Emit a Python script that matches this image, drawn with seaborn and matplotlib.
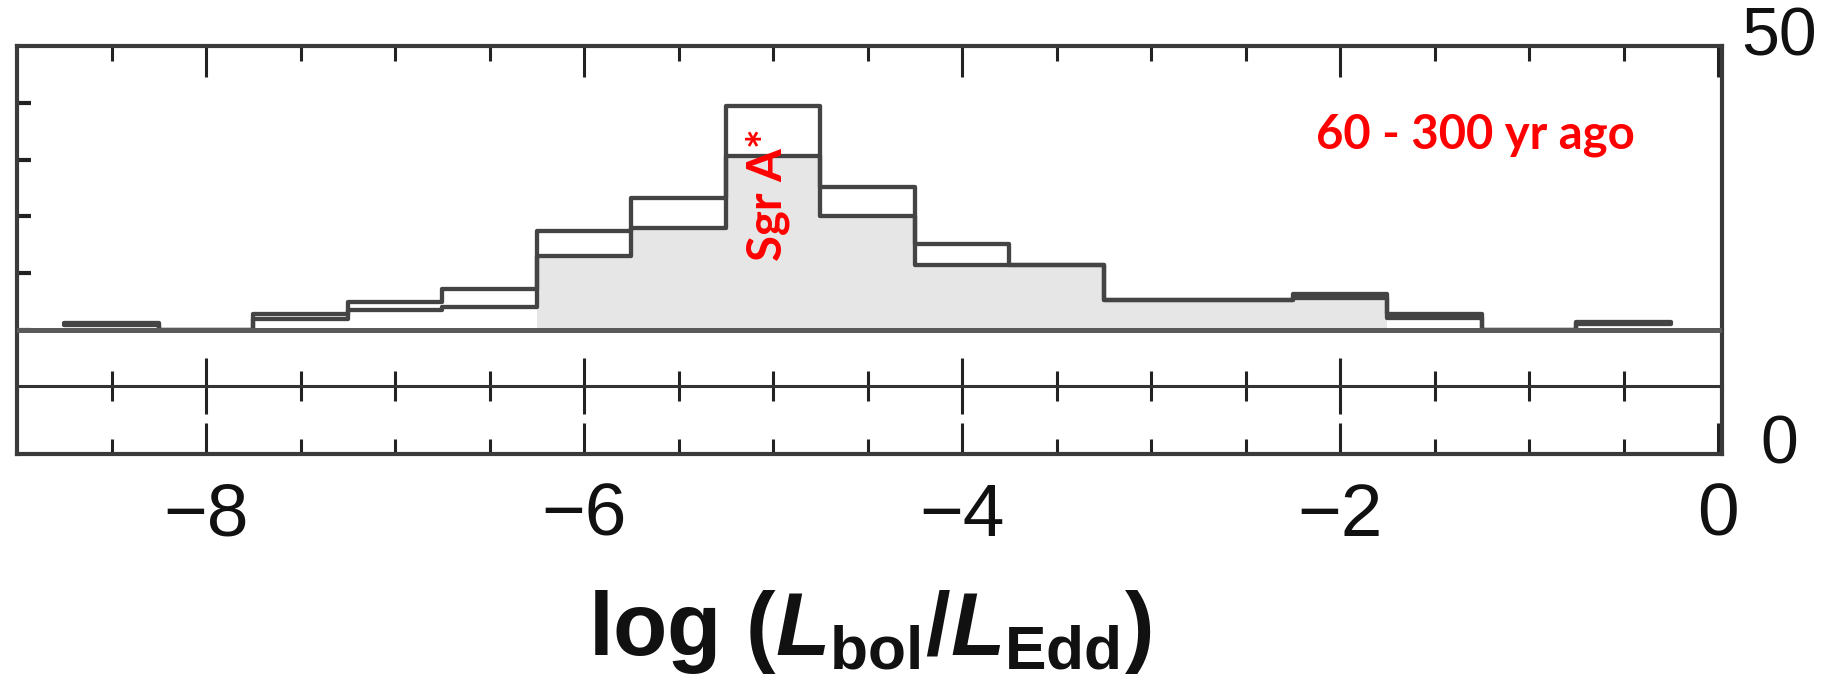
import numpy as np
import pandas as pd
import matplotlib
matplotlib.use("Agg")
import matplotlib.pyplot as plt
from matplotlib.ticker import FixedLocator
import seaborn as sns

# Eddington-ratio distribution, 0.5 dex bins
bin_centers = [-8.5, -8.0, -7.5, -7.0, -6.5, -6.0, -5.5, -5.0, -4.5, -4.0,
               -3.5, -3.0, -2.5, -2.0, -1.5, -1.0, -0.5]
total_counts = [1.3, 0.0, 2.8, 4.9, 7.2, 17.5, 23.2, 39.4, 25.1, 15.2,
                11.4, 5.3, 5.3, 6.3, 2.8, 0.0, 1.4]
subset_counts = [0.8, 0.0, 2.0, 3.6, 4.1, 13.1, 17.9, 30.6, 20.0, 11.4,
                 11.4, 5.2, 5.2, 5.6, 2.2, 0.0, 1.0]
shaded_counts = [0.0, 0.0, 0.0, 0.0, 0.0, 13.1, 17.9, 30.6, 20.0, 11.4,
                 11.4, 5.2, 5.2, 5.6, 0.0, 0.0, 0.0]
bin_width = 0.5

x_major = [-8, -6, -4, -2, 0]
x_major_labels = ["\u22128", "\u22126", "\u22124", "\u22122", "0"]
x_minor = [-8.5, -7.5, -7.0, -6.5, -5.5, -5.0, -4.5, -3.5, -3.0, -2.5,
           -1.5, -1.0, -0.5]
divider_major = [-8, -6, -4, -2]
y_ticks = [0, 10, 20, 30, 40]
right_labels = [0, 50]

sgr_label = "Sgr A*"
sgr_pos = (-5.03, 23.8)
epoch_label = "60 - 300 yr ago"
epoch_pos = (-2.13, 32.0)

hist_df = pd.DataFrame({"center": bin_centers, "total": total_counts,
                        "subset": subset_counts, "shaded": shaded_counts})

sns.set_theme(style="ticks")
plt.rcParams["font.family"] = ["Liberation Sans", "DejaVu Sans"]
plt.rcParams["mathtext.fontset"] = "custom"
plt.rcParams["mathtext.rm"] = "Liberation Sans:bold"
plt.rcParams["mathtext.bf"] = "Liberation Sans:bold"
plt.rcParams["mathtext.it"] = "Liberation Sans:italic:bold"

line_col = "#444444"
frame_col = "#3a3a3a"

fig = plt.figure(figsize=(18.25, 6.78), dpi=100)
ax = fig.add_axes([17 / 1825, 1 - 454 / 678, 1705 / 1825, 408 / 678])

edges = np.arange(bin_centers[0] - bin_width / 2,
                  bin_centers[-1] + bin_width, bin_width).tolist()

sns.histplot(data=hist_df, x="center", weights="shaded", bins=edges,
             element="step", fill=True, color="#e6e6e6", alpha=1,
             linewidth=0, ax=ax)
sns.histplot(data=hist_df, x="center", weights="subset", bins=edges,
             element="step", fill=False, color=line_col, linewidth=3.1, ax=ax)
sns.histplot(data=hist_df, x="center", weights="total", bins=edges,
             element="step", fill=False, color=line_col, linewidth=3.1, ax=ax)
ax.axhline(0, color="#5a5a5a", linewidth=3.6, zorder=3)

ax.set_xlim(-9.0, 0.02)
ax.set_ylim(-21.83, 50)
ax.set_ylabel("")

ax.set_xticks(x_major)
ax.set_xticklabels(x_major_labels, fontsize=54, color="#111111")
ax.xaxis.set_minor_locator(FixedLocator(x_minor))
ax.tick_params(axis="x", which="major", direction="in", length=22, width=2.2,
               top=True, bottom=True, color="#222222", pad=20)
ax.tick_params(axis="x", which="minor", direction="in", length=10.5, width=2.2,
               top=True, bottom=True, color="#222222")
ax.set_yticks(y_ticks)
ax.set_yticklabels([])
ax.tick_params(axis="y", which="major", direction="in", length=10, width=3,
               left=True, right=True, color="#222222")
for s in ax.spines.values():
    s.set_visible(True)
    s.set_linewidth(3.0)
    s.set_color(frame_col)

# divider line between the two strips, ticks crossing it both ways
mid = ax.secondary_xaxis((454 - 386) / 408)
mid.set_xticks(divider_major)
mid.xaxis.set_minor_locator(FixedLocator(x_minor))
mid.tick_params(axis="x", which="major", direction="inout", length=40, width=2.2,
                color="#222222", labeltop=False, labelbottom=False)
mid.tick_params(axis="x", which="minor", direction="inout", length=21.5, width=2.2,
                color="#222222")
for s in mid.spines.values():
    s.set_linewidth(2.2)
    s.set_color("#333333")

ax.set_xlabel(r"log ($L_{\rm bol}$/$L_{\rm Edd}$)", fontsize=64,
              fontweight="bold", color="#111111", labelpad=27)

ax.text(sgr_pos[0], sgr_pos[1], sgr_label, rotation=90, ha="center",
        va="center", color="#ff0000", fontsize=34, fontweight="bold",
        family=["Lato", "DejaVu Sans"], zorder=5)
ax.text(epoch_pos[0], epoch_pos[1], epoch_label, ha="left", va="baseline",
        color="#ff0000", fontsize=34, fontweight="bold",
        family=["Lato", "DejaVu Sans"], zorder=5)

# right-hand scale labels
ax2 = ax.twinx()
ax2.set_ylim(0, 50)
ax2.set_axis_off()
for v in right_labels:
    ax2.annotate(str(v), xy=(1, v), xycoords=ax2.get_yaxis_transform(),
                 xytext=(41, 6), textcoords="offset points", ha="center",
                 va="center", fontsize=49, color="#111111")

fig.savefig("out.png", dpi=100)
